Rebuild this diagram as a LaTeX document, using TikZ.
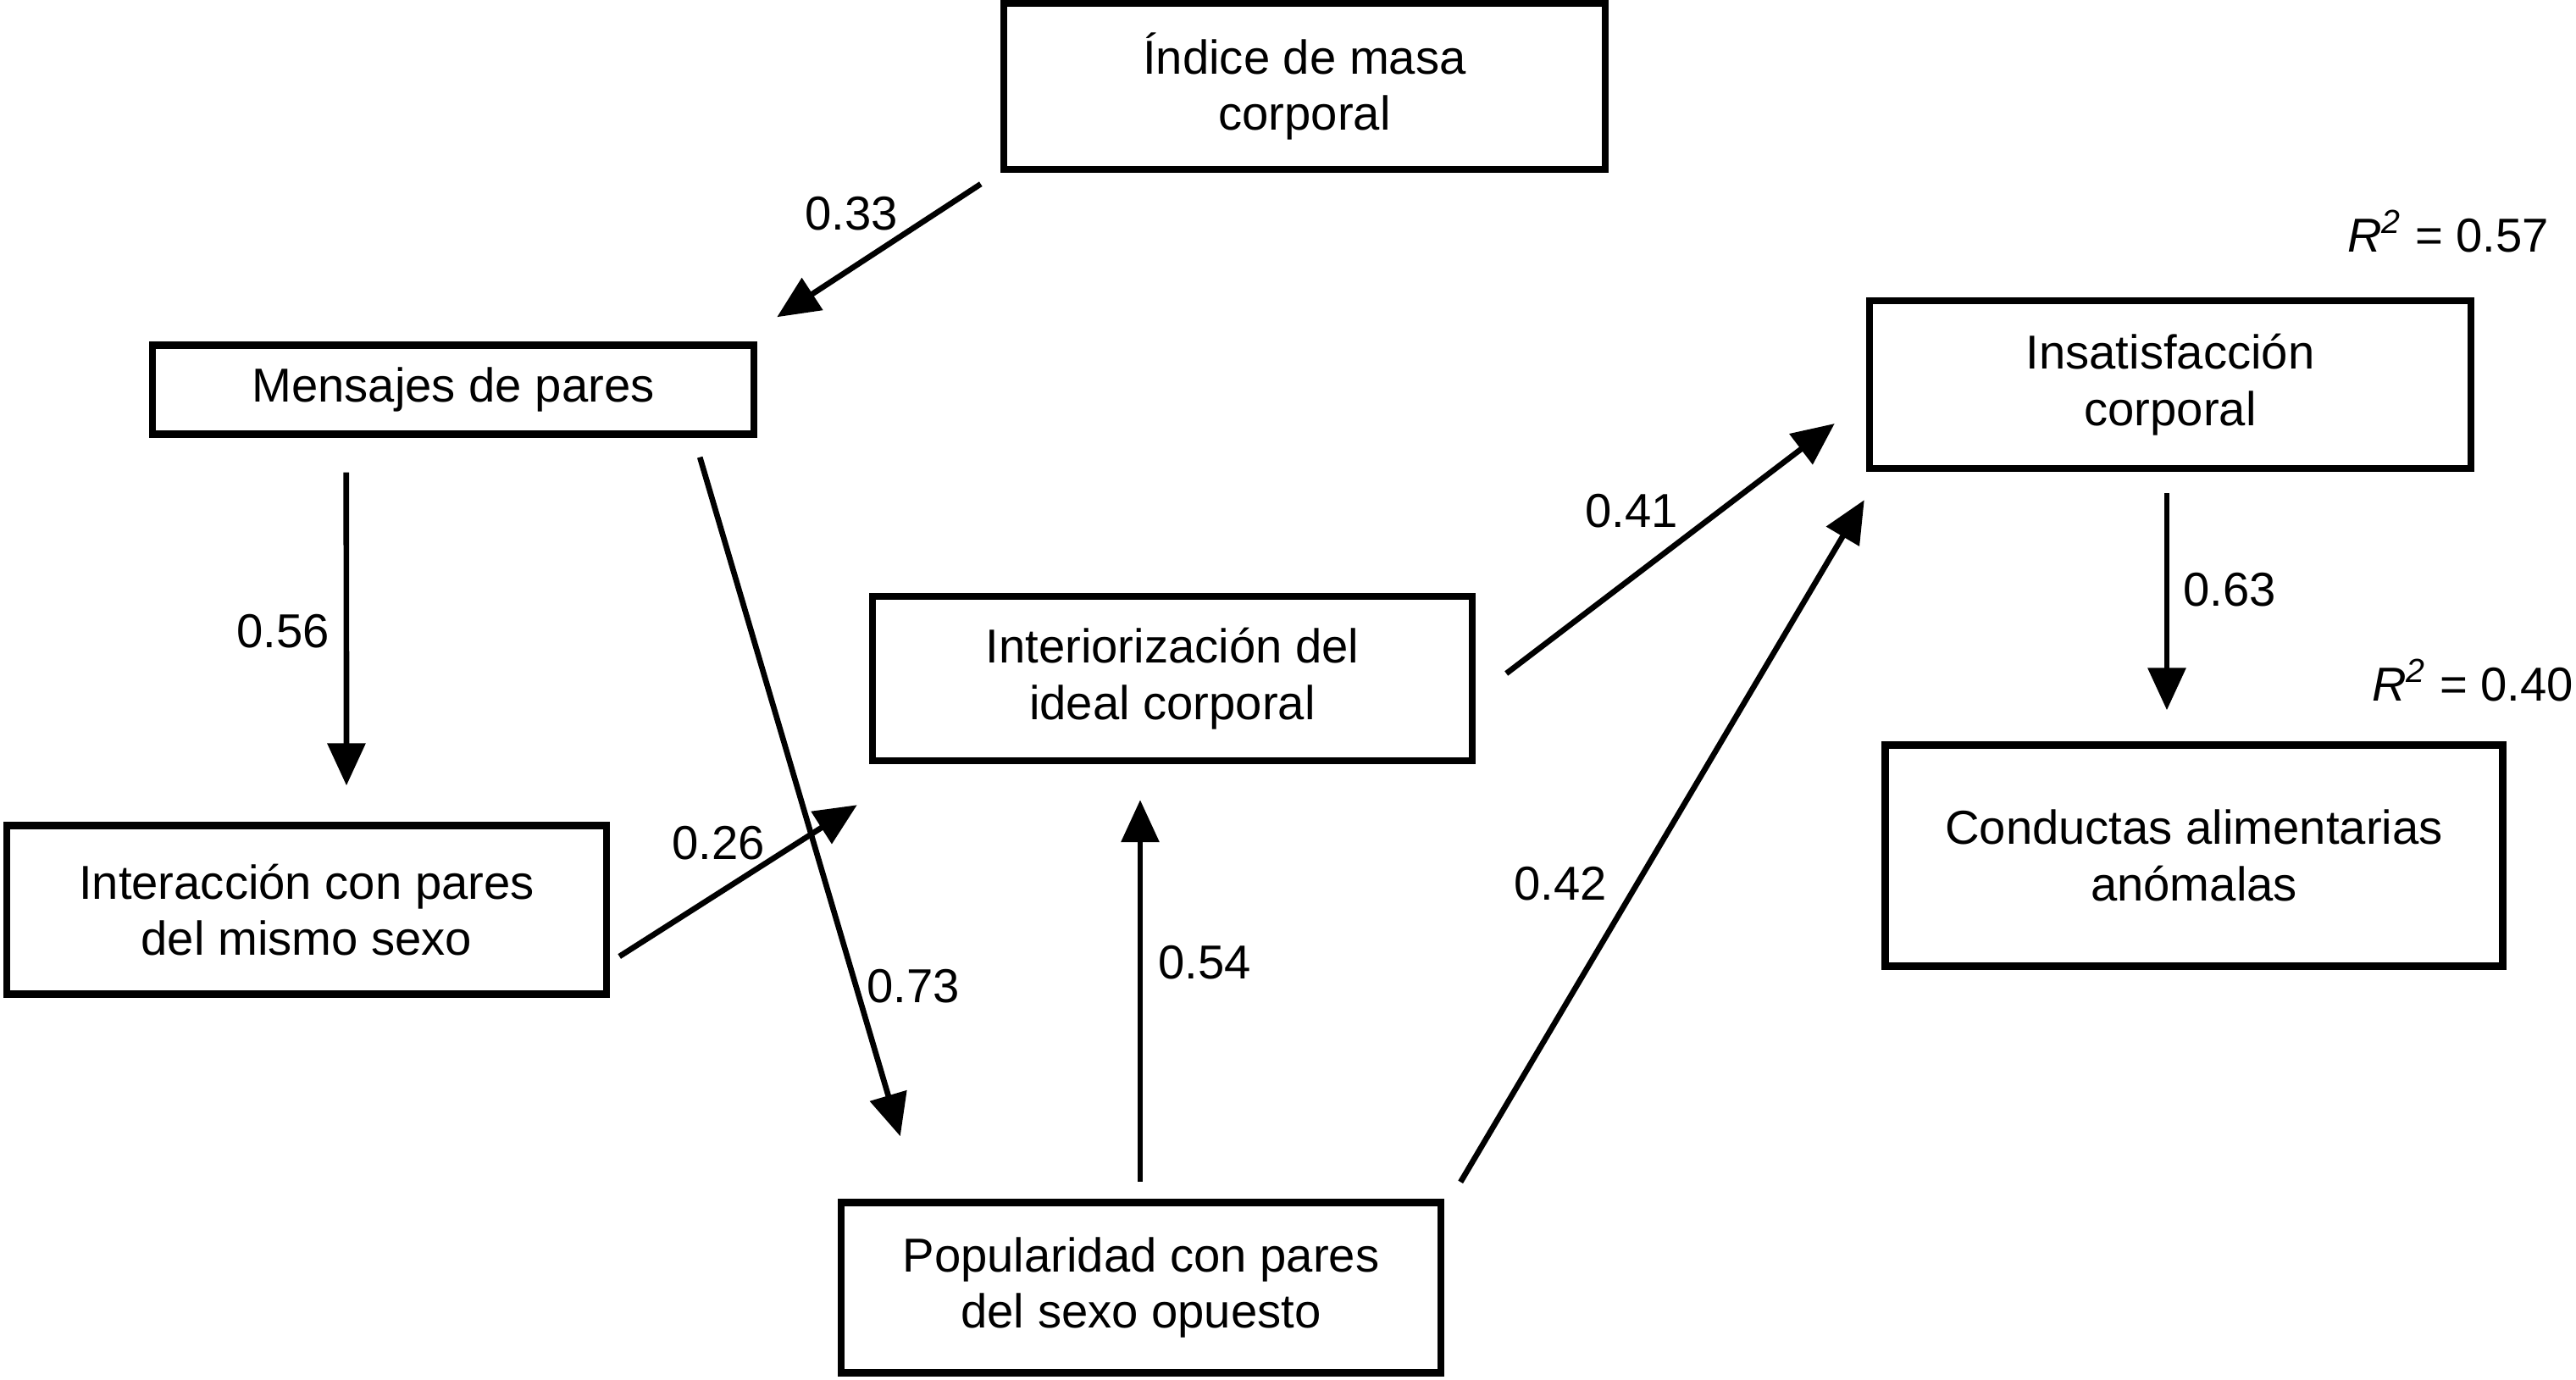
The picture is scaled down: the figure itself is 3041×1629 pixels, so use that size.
\documentclass[tikz,border=0pt]{standalone}
\usepackage{fontspec}
\setmainfont{Liberation Sans}
\usetikzlibrary{arrows.meta,calc}

\tikzset{
  caja/.style={draw, line width=2.4pt, align=center, inner sep=0pt,
    font=\fontsize{16}{19}\selectfont},
  flecha/.style={line width=1.9pt, -{Triangle[length=5mm,width=4.4mm]}},
  coef/.style={font=\fontsize{16}{19}\selectfont, inner sep=0pt},
}

\begin{document}
\begin{tikzpicture}[x=0.1mm, y=-0.1mm]
\useasboundingbox (0,0) rectangle (3041,1629);
% cajas
\node[caja, minimum width=71.0mm, minimum height=19.6mm] (idx) at (1540,102) {Índice de masa\\corporal};
\node[caja, minimum width=71.0mm, minimum height=10.5mm] (men) at (535,460) {Mensajes de pares};
\node[caja, minimum width=71.0mm, minimum height=19.8mm] (ins) at (2562,454) {Insatisfacción\\corporal};
\node[caja, minimum width=70.8mm, minimum height=19.4mm] (int) at (1384,801) {Interiorización del\\ideal corporal};
\node[caja, minimum width=70.8mm, minimum height=19.9mm] (iac) at (362,1074) {Interacción con pares\\del mismo sexo};
\node[caja, minimum width=72.9mm, minimum height=26.1mm] (con) at (2590,1010) {Conductas alimentarias\\anómalas};
\node[caja, minimum width=70.8mm, minimum height=20.1mm] (pop) at (1347,1520) {Popularidad con pares\\del sexo opuesto};
% flechas
\draw[flecha] ($(idx.south west)+(-23,13)$) -- ($(men.north east)+(23,-29)$);
\draw[flecha] ($(men.south west)+(233,41)$) -- ($(iac.north)+(47,-43)$);
\draw[flecha] ($(men.south east)+(-68,23)$) -- ($(pop.north west)+(74,-74)$);
\draw[flecha] ($(iac.east)+(11,55)$) -- ($(int.south west)+(-14,48)$);
\draw[flecha] ($(pop.north)+(-1,-20)$) -- ($(int.south)+(-38,42)$);
\draw[flecha] ($(int.east)+(36,-6)$) -- ($(ins.west)+(-37,46)$);
\draw[flecha] ($(pop.north east)+(19,-20)$) -- ($(ins.south west)+(-2,33)$);
\draw[flecha] ($(ins.south)+(-4,25)$) -- ($(con.north)+(-32,-37)$);
% coeficientes
\node[coef] (c33) at (1005,252) {0.33};
\node[coef] (c56) at (334,745) {0.56};
\node[coef] (c73) at (1078,1164) {0.73};
\node[coef] (c26) at (848,995) {0.26};
\node[coef] (c54) at (1422,1136) {0.54};
\node[coef] (c41) at (1926,603) {0.41};
\node[coef] (c42) at (1842,1043) {0.42};
\node[coef] (c63) at (2632,696) {0.63};
\node[coef] (r57) at (2890,273) {\textit{R}\textsuperscript{\textit{2}} = 0.57};
\node[coef] (r40) at (2919,803) {\textit{R}\textsuperscript{\textit{2}} = 0.40};
\end{tikzpicture}
\end{document}
